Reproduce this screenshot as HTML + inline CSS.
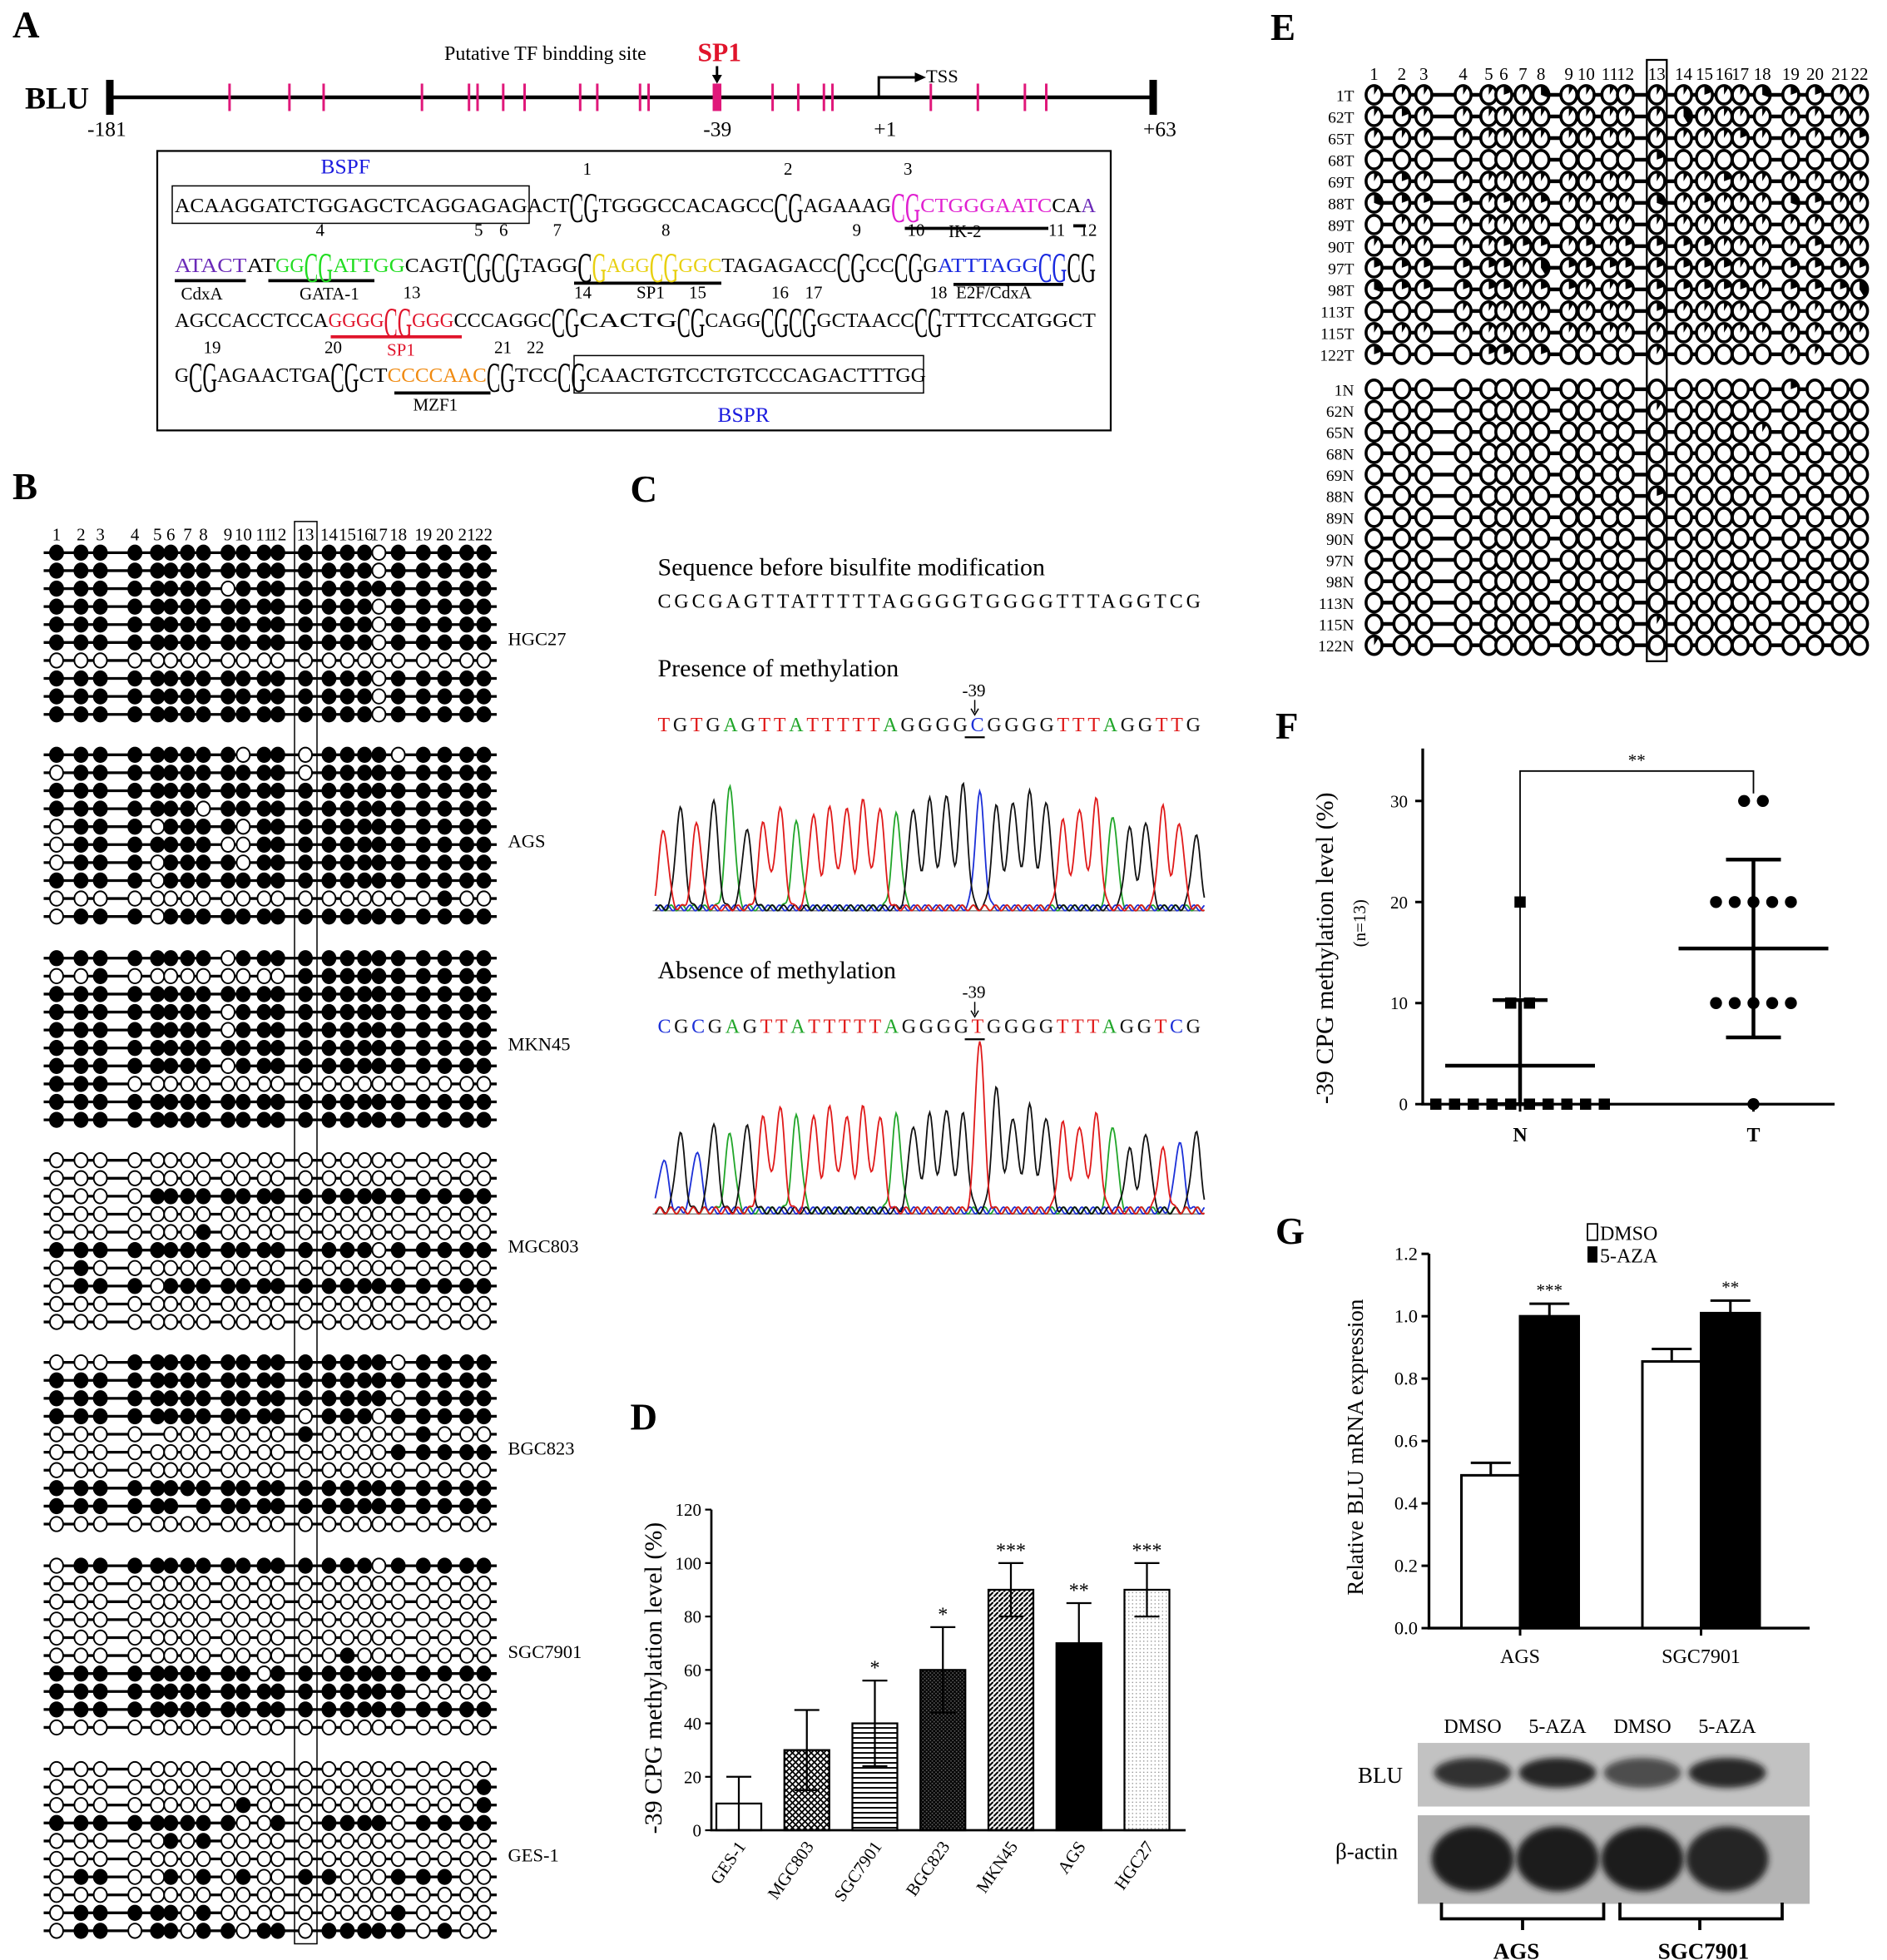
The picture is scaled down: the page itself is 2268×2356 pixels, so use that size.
<!DOCTYPE html>
<html><head><meta charset="utf-8">
<style>
html,body{margin:0;padding:0;background:#fff;}
svg{display:block;}
text{font-family:"Liberation Serif",serif;}
</style></head>
<body>
<svg id="fig" width="2268" height="2356" viewBox="0 0 1512 1571" preserveAspectRatio="none" xmlns="http://www.w3.org/2000/svg">
<defs>
<pattern id="pCross" width="5" height="5" patternUnits="userSpaceOnUse"><rect width="5" height="5" fill="#fff"/><path d="M0 0L5 5M5 0L0 5" stroke="#000" stroke-width="1.2"/></pattern>
<pattern id="pHoriz" width="4" height="4" patternUnits="userSpaceOnUse"><rect width="4" height="4" fill="#fff"/><path d="M0 1H4" stroke="#000" stroke-width="1.3"/></pattern>
<pattern id="pDense" width="3" height="3" patternUnits="userSpaceOnUse"><rect width="3" height="3" fill="#555"/><path d="M0 0L3 3M3 0L0 3" stroke="#000" stroke-width="0.9"/></pattern>
<pattern id="pDiag" width="4" height="4" patternUnits="userSpaceOnUse"><rect width="4" height="4" fill="#fff"/><path d="M0 4L4 0" stroke="#000" stroke-width="1.4"/></pattern>
<pattern id="pDot" width="3" height="3" patternUnits="userSpaceOnUse"><rect width="3" height="3" fill="#fff"/><circle cx="1.5" cy="1.5" r="0.5" fill="#888"/></pattern>
<filter id="blur" x="-20%" y="-50%" width="140%" height="200%"><feGaussianBlur stdDeviation="2.5"/></filter>
</defs>
<g id="root"></g>
</svg>
<script>
// ---------- data arrays ----------
const promoterSitesBp = [-153,-139,-131,-108,-97,-95,-89,-84,-71,-67,-57,-55,-39,-26,-20,-14,-12,11,22,33,38];
const cpgNumbers = ["1","2","3","4","5","6","7","8","9","10","11","12","13","14","15","16","17","18","19","20","21","22"];
const cellLines = ["HGC27","AGS","MKN45","MGC803","BGC823","SGC7901","GES-1"];
const Z = "0000000000000000000000", F = "1111111111111111111111";
const bspHGC27 = ["1111111111111111 0 11111","1111111111111111 0 11111","11111111 0 1111111111111","1111111111111111 0 11111","1111111111111111 0 11111","1111111111111111 0 11111",Z,"1111111111111111 0 11111","1111111111111111 0 11111","1111111111111111 0 11111"];
const bspAGS = ["111111111 0 11 0 1111 0 1111","0 11111111111 0 111111111",F,"1111111 0 11111111111111","0 111 0 1111 0 111111111111","0 1111111 00 111111111111","0 111 0 1111 0 111111111111","1111 0 11111111111111111","0000000000000000000 1 00","0 111 0 11111111111111111"];
const bspMKN45 = ["11111111 0 1111111111111","00 1 000000000 1111111111",F,"11111111 0 1111111111111","11111111 0 1111111111111",F,"11111111 0 1111111111111","111 0000000000000000000",F,F];
const bspMGC803 = [Z,Z,"0000 111111111111111111",Z,"0000000 1 00000000000000","1111111111111111 0 11111","0 1 00000000000000000000","0 111 0 11111111111111111",Z,Z];
const bspBGC823 = ["000 11111111111111 0 1111",F,"11111111111111111 0 1111","111111111111 0 111 0 11111","0000 - 0000000 1 00000 1 000","00000000000000000 11111",Z,F,"111111 - 111111111111111",Z];
const bspSGC7901 = ["0 111111111111111 0 11111",Z,Z,Z,Z,"00000000000000 1 0000000","1111111111 0 11111111111","111111111111111111 0000",F,Z];
const bspGES1 = [Z,"000000000000000000000 1","000000000 1 00000000000 1","111111111 00 1 0 1111 0 1111","00000 1 0 1 00000000000000",Z,"0 11 00 1 0 1 0 1 00 11 000 111 00",Z,"0 11111 0 1 000000000 1 0000","0 11 0 11 0 11 0 11 0 11111 0 1 00"];
const bspGroups = [bspHGC27,bspAGS,bspMKN45,bspMGC803,bspBGC823,bspSGC7901,bspGES1];
const tissueLabels = ["1T","62T","65T","68T","69T","88T","89T","90T","97T","98T","113T","115T","122T"];
const normalLabels = ["1N","62N","65N","68N","69N","88N","89N","90N","97N","98N","113N","115N","122N"];
const tumorMeth = ["1111121311111121132211","1211111111111411111111","1111111111111111211112","0000000000002000000000","1211111111111112111111","3222121211113121113211","0111111101111111111111","1111122212122221111211","2222221422222222112222","3222221221122222212224","0001111111112111101111","1111111111111111111111","2000220200001000001100"];
const normalMeth = ["0000000000000000002000","0000000000001000000000","0000000000000000010000","0000000000000000000000","0000000000000000000000","0000000000002000000000","0000000000000000000000","0000000000000000000000","0000000000000000000000","0000000000000000000000","0000000000000000000000","0000000000001000000000","1000000000000000000000"];
const seqBefore = "CGCGAGTTATTTTTAGGGGTGGGGTTTAGGTCG";
const seqPresence = "TGTGAGTTATTTTTAGGGGCGGGGTTTAGGTTG";
const seqAbsence = "CGCGAGTTATTTTTAGGGGTGGGGTTTAGGTCG";
const peaksPresence = [0.55,0.7,0.6,0.75,0.85,0.55,0.6,0.7,0.6,0.65,0.7,0.7,0.75,0.7,0.65,0.7,0.75,0.8,0.85,0.8,0.7,0.75,0.8,0.75,0.6,0.7,0.75,0.65,0.55,0.6,0.7,0.6,0.5];
const peaksAbsence = [0.3,0.45,0.35,0.5,0.45,0.5,0.55,0.6,0.55,0.55,0.6,0.55,0.6,0.55,0.55,0.5,0.55,0.6,0.55,1.0,0.7,0.55,0.6,0.55,0.5,0.5,0.55,0.5,0.35,0.45,0.35,0.4,0.45];
const dCategories = ["GES-1","MGC803","SGC7901","BGC823","MKN45","AGS","HGC27"];
const dValues = [10,30,40,60,90,70,90];
const dErrors = [10,15,16,16,10,15,10];
const dStars = ["","","*","*","***","**","***"];
const dTicks = [0,20,40,60,80,100,120];
const fGroups = ["N","T"];
const fN = [20,10,10,0,0,0,0,0,0,0,0,0,0];
const fT = [30,30,20,20,20,20,20,10,10,10,10,10,0];
const fMeans = [3.8,15.4];
const fSD = [6.5,8.8];
const fTicks = [0,10,20,30];
const gCategories = ["AGS","SGC7901"];
const gDMSO = [0.49,0.855];
const gAZA = [1.0,1.01];
const gErrDMSO = [0.04,0.04];
const gErrAZA = [0.04,0.04];
const gStars = ["***","**"];
const gTicks = [0,0.2,0.4,0.6,0.8,1.0,1.2];
const blotLanes = ["DMSO","5-AZA","DMSO","5-AZA"];
const bluIntensity = [0.85,0.95,0.7,0.9];
const actinIntensity = [1,1,1,0.95];

// ---------- helpers ----------
const NS="http://www.w3.org/2000/svg";
const root=document.getElementById('root');
function el(tag,attrs,parent){const e=document.createElementNS(NS,tag);for(const k in attrs)e.setAttribute(k,attrs[k]);(parent||root).appendChild(e);return e;}
function txt(s,x,y,size,attrs,parent){const a=Object.assign({x:x,y:y,'font-size':size},attrs||{});const e=el('text',a,parent);e.textContent=s;return e;}
function grp(name){const g=el('g',{});return g;}
function label(s,x,y){const t=txt(s,x,y,30,{'font-weight':'bold'});}

// ================= PANEL A =================
label("A",10,30);
const gA=grp('panel-a-promoter');
const bpX=bp=>88+(bp+181)*(836/244);
txt("BLU",20,87,25,{'font-weight':'bold'},gA);
el('line',{x1:88,y1:78,x2:924,y2:78,stroke:'#000','stroke-width':3},gA);
el('rect',{x:85,y:64,width:6,height:28,fill:'#000'},gA);
el('rect',{x:921,y:64,width:6,height:28,fill:'#000'},gA);
promoterSitesBp.forEach(bp=>{
  const x=bpX(bp);const w=bp===-39?7:2;
  const t=el('rect',{x:x-w/2,y:67,width:w,height:22,fill:'#e0187a'},gA);
  
  
});
txt("-181",bpX(-181)-18,109,17,{},gA);
txt("-39",bpX(-39)-11,109,17,{},gA);
txt("+1",bpX(0)-8,109,17,{},gA);
txt("+63",bpX(63)-8,109,17,{},gA);
txt("Putative  TF bindding site",356,48,16,{},gA);
txt("SP1",559,49,21,{fill:'#e0142b','font-weight':'bold'},gA);
el('line',{x1:bpX(-39),y1:53,x2:bpX(-39),y2:63,stroke:'#000','stroke-width':2},gA);
el('path',{d:`M${bpX(-39)-4} 60 L${bpX(-39)+4} 60 L${bpX(-39)} 67Z`,fill:'#000'},gA);
el('path',{d:`M${bpX(0)-4} 78 V62 H735`,stroke:'#000','stroke-width':2,fill:'none'},gA);
el('path',{d:'M733 58 L742 62 L733 66Z',fill:'#000'},gA);
txt("TSS",742,66,15,{},gA);
const gSeq=grp('promoter-sequence-box');
el('rect',{x:126,y:121,width:764,height:224,fill:'none',stroke:'#000','stroke-width':1.5},gSeq);
el('rect',{x:138,y:149,width:286,height:30,fill:'none',stroke:'#000','stroke-width':1},gSeq);
el('rect',{x:460,y:285,width:280,height:30,fill:'none',stroke:'#000','stroke-width':1},gSeq);
txt("BSPF",257,139,17,{fill:'#1a1adf'},gSeq);
txt("BSPR",575,338,17,{fill:'#1a1adf'},gSeq);
const K='#000',M='#e020d0',P='#6b2ab8',Gn='#22dd22',Y='#e8d010',B='#1a2ae0',R='#e0142b',O='#f08a10';
const seqRows=[
 {y:170,x:140,w:738,segs:[["ACAAGGATCTGGAGCTCAGGAGAGACT",K],["CG",K,1],["TGGGCCACAGCC",K],["CG",K,1],["AGAAAG",K],["CG",M,1],["CTGGGAATC",M],["CA",K],["A",P]]},
 {y:218,x:140,w:738,segs:[["ATACT",P],["AT",K],["GG",Gn],["CG",Gn,1],["ATTGG",Gn],["CAGT",K],["CG",K,1],["CG",K,1],["TAGG",K],["C",K,1],["G",Y,1],["AGG",Y],["CG",Y,1],["GGC",Y],["TAGAGACC",K],["CG",K,1],["CC",K],["CG",K,1],["G",K],["ATTTAGG",B],["CG",B,1],["CG",K,1]]},
 {y:262,x:140,w:738,segs:[["AGCCACCTCCA",K],["GGGG",R],["CG",R,1],["GGG",R],["CCCAGGC",K],["CG",K,1],[" CACTG ",K],["CG",K,1],["CAGG",K],["CG",K,1],["CG",K,1],["GCTAACC",K],["CG",K,1],["TTTCCATGGCT",K]]},
 {y:306,x:140,w:602,segs:[["G",K],["CG",K,1],["AGAACTGA",K],["CG",K,1],["CT",K],["CCCCAAC",O],["CG",K,1],["TCC",K],["CG",K,1],["CAACTGTCCTGTCCCAGACTTTGG",K]]}
];
seqRows.forEach((r,i)=>{
  const total=r.segs.reduce((a,s)=>a+s[0].length,0);const cw=r.w/total;let x=r.x;
  const g=grp('sequence-line-'+(i+1));
  r.segs.forEach(s=>{
    const n=s[0].length;
    const t=el('text',{x:x,y:s[2]?r.y+8:r.y,'font-size':s[2]?34:16,fill:s[1],textLength:n*cw,lengthAdjust:'spacingAndGlyphs'},g);
    t.textContent=s[0];x+=n*cw;
  });
});
const cpgNumPos=[[467,140],[628,140],[724,140],[253,189],[380,189],[400,189],[443,189],[530,189],[683,189],[727,189],[840,189],[865,189],[323,239],[460,239],[552,239],[618,239],[645,239],[745,239],[163,283],[260,283],[396,283],[422,283]];
cpgNumbers.forEach((n,i)=>txt(n,cpgNumPos[i][0],cpgNumPos[i][1],14,{},gSeq));
const tfLabels=[["IK-2",760,190,K,725,840,183],["CdxA",145,240,K,140,197,225],["GATA-1",240,240,K,215,300,225],["SP1",510,239,K,460,578,227],["E2F/CdxA",766,239,K,764,852,228],["SP1",310,285,R,265,370,270],["MZF1",331,329,K,316,393,315]];
tfLabels.forEach(l=>{txt(l[0],l[1],l[2],14,{fill:l[3]},gSeq);el('line',{x1:l[4],y1:l[6],x2:l[5],y2:l[6],stroke:l[3],'stroke-width':2.5},gSeq);});
el('line',{x1:860,y1:181,x2:870,y2:181,stroke:'#000','stroke-width':2.5},gSeq);

// ================= PANEL B =================
label("B",10,400);
const gB=grp('panel-b-bisulfite-sequencing');
const bColX=[45.3,64.9,80.4,108.1,126.2,136.8,150.3,163.0,182.7,194.9,211.6,222.6,244.7,263.6,278.3,292.1,303.6,319.1,339.2,356.3,374.0,387.7];
cpgNumbers.forEach((n,i)=>txt(n,bColX[i],433,14,{'text-anchor':'middle'},gB));
const bGroupY=[443,605,768,930,1092,1255,1418], bRowStep=14.4;
bspGroups.forEach((rows,gi)=>{
  const gy=bGroupY[gi];
  rows.forEach((row,ri)=>{
    const s=row.replace(/ /g,'');const y=gy+ri*bRowStep;
    el('line',{x1:35,y1:y,x2:398,y2:y,stroke:'#000','stroke-width':2.2},gB);
    for(let c=0;c<22;c++){
      if(s[c]==='-')continue;
      const d=el('ellipse',{cx:bColX[c],cy:y,rx:5.3,ry:5.8,fill:s[c]==='1'?'#000':'#fff',stroke:'#000','stroke-width':1.3},gB);
      
      
    }
  });
  const lt=txt(cellLines[gi],407,gy+74,15,{},gB);
  
  
});
el('rect',{x:236,y:418,width:18,height:1140,fill:'none',stroke:'#000','stroke-width':1},gB);

// ================= PANEL C =================
label("C",505,402);
const gC=grp('panel-c-chromatograms');
const baseCol={A:'#21a62a',C:'#1c30d8',G:'#111',T:'#e01a1a'};
txt("Sequence before bisulfite modification",527,461,20,{},gC);
txt(seqBefore,527,487,16,{textLength:435,lengthAdjust:'spacing'},gC);
txt("Presence of methylation",527,542,20,{},gC);
txt("Absence of methylation",527,784,20,{},gC);
function colorSeq(seq,y,hl){
  const t=el('text',{x:527,y:y,'font-size':16,textLength:435,lengthAdjust:'spacing'},gC);
  for(const ch of seq){const ts=el('tspan',{fill:baseCol[ch]},t);ts.textContent=ch;}
  const step=435/seq.length;const x=527+step*(hl+0.5)-3;
  el('line',{x1:x-8,y1:y+5,x2:x+8,y2:y+5,stroke:'#000','stroke-width':1.5},gC);
  txt("-39",x-10,y-28,14,{},gC);
  el('line',{x1:x,y1:y-25,x2:x,y2:y-15,stroke:'#000','stroke-width':1},gC);
  el('path',{d:`M${x-3} ${y-18} L${x} ${y-13} L${x+3} ${y-18}`,stroke:'#000',fill:'none'},gC);
}
colorSeq(seqPresence,586,19);
colorSeq(seqAbsence,828,19);
function chrom(seq,peaks,top,base){
  const x0=525,x1=965,step=(x1-x0)/seq.length,H=base-top;
  el('line',{x1:523,y1:base,x2:965,y2:base,stroke:'#888','stroke-width':1},gC);
  ['A','C','G','T'].forEach(b=>{
    let d='';
    for(let x=x0;x<=x1;x+=1){
      let v=0;
      for(let i=0;i<seq.length;i++){if(seq[i]!==b)continue;const px=x0+step*(i+0.5);v+=peaks[i]*Math.exp(-((x-px)*(x-px))/(2*3.6*3.6));}
      v+=0.02*(1+Math.sin(x*0.7+b.charCodeAt(0)));
      d+=(d?'L':'M')+x+' '+(base-v*H).toFixed(1);
    }
    const p=el('path',{d:d,stroke:baseCol[b],fill:'none','stroke-width':1.2},gC);
    
    
  });
}
chrom(seqPresence,peaksPresence,615,730);
chrom(seqAbsence,peaksAbsence,835,973);

// ================= PANEL D =================
label("D",505,1146);
const gD=grp('panel-d-bar-chart');
const dY=v=>1467-v*(257/120), dX=i=>592+i*54.5, dW=36;
const dFills=['#fff','url(#pCross)','url(#pHoriz)','url(#pDense)','url(#pDiag)','#000','url(#pDot)'];
dValues.forEach((v,i)=>{
  const b=el('rect',{x:dX(i)-dW/2,y:dY(v),width:dW,height:dY(0)-dY(v),fill:dFills[i],stroke:'#000','stroke-width':1.5},gD);
  
  
  const e=dErrors[i];
  el('path',{d:`M${dX(i)} ${dY(v-e)}V${dY(v+e)}M${dX(i)-10} ${dY(v+e)}H${dX(i)+10}M${dX(i)-10} ${dY(v-e)}H${dX(i)+10}`,stroke:'#000','stroke-width':1.5},gD);
  if(dStars[i])txt(dStars[i],dX(i),dY(v+e)-5,16,{'text-anchor':'middle'},gD);
  txt(dCategories[i],dX(i)+6,1480,14,{'text-anchor':'end',transform:`rotate(-55 ${dX(i)+6} 1480)`},gD);
});
el('path',{d:`M570 ${dY(120)}V${dY(0)}H950`,stroke:'#000','stroke-width':1.8,fill:'none'},gD);
dTicks.forEach(t=>{el('line',{x1:565,y1:dY(t),x2:570,y2:dY(t),stroke:'#000','stroke-width':1.5},gD);txt(String(t),562,dY(t)+5,14,{'text-anchor':'end'},gD);});
txt("-39  CPG  methylation  level  (%)",0,0,20,{'text-anchor':'middle',transform:'translate(530 1345) rotate(-90)'},gD);

// ================= PANEL E =================
label("E",1018,32);
const gE=grp('panel-e-tissue-methylation');
const eX=c=>1101+(bColX[c]-45.3)*(389/342.4);
cpgNumbers.forEach((n,i)=>txt(n,eX(i),64,14,{'text-anchor':'middle'},gE));
function pieRow(lbl,vals,y){
  txt(lbl,1085,y+5,13,{'text-anchor':'end'},gE);
  el('line',{x1:1095,y1:y,x2:1497,y2:y,stroke:'#000','stroke-width':3},gE);
  for(let c=0;c<22;c++){
    const cx=eX(c),rx=6.4,ry=7.4;
    const circ=el('ellipse',{cx:cx,cy:y,rx:rx,ry:ry,fill:'#fff',stroke:'#000','stroke-width':2.4},gE);
    
    
    const f=Number(vals[c])/10;
    if(f>0){const a=f*2*Math.PI;const ex=cx+rx*Math.sin(a),ey=y-ry*Math.cos(a);
      el('path',{d:`M${cx} ${y}L${cx} ${y-ry}A${rx} ${ry} 0 ${f>0.5?1:0} 1 ${ex.toFixed(2)} ${ey.toFixed(2)}Z`,fill:'#000'},gE);}
  }
}
tissueLabels.forEach((l,i)=>pieRow(l,tumorMeth[i],76+i*17.33));
normalLabels.forEach((l,i)=>pieRow(l,normalMeth[i],312+i*17.1));
el('rect',{x:eX(12)-8,y:48,width:16,height:482,fill:'none',stroke:'#000','stroke-width':1.5},gE);

// ================= PANEL F =================
label("F",1022,592);
const gF=grp('panel-f-dot-plot');
const fY=v=>885-v*8.1, fX=i=>1218+i*187;
el('path',{d:`M1140 600V885H1470`,stroke:'#000','stroke-width':2.2,fill:'none'},gF);
fTicks.forEach(t=>{el('line',{x1:1134,y1:fY(t),x2:1140,y2:fY(t),stroke:'#000','stroke-width':2},gF);txt(String(t),1128,fY(t)+5,14,{'text-anchor':'end'},gF);});
fGroups.forEach((g,i)=>{el('line',{x1:fX(i),y1:885,x2:fX(i),y2:891,stroke:'#000','stroke-width':2},gF);txt(g,fX(i),915,16,{'text-anchor':'middle','font-weight':'bold'},gF);});
function dotCluster(vals,gi,shape){
  const counts={};vals.forEach(v=>counts[v]=(counts[v]||0)+1);
  const seen={};
  vals.forEach(v=>{const n=counts[v];const k=(seen[v]=(seen[v]||0)+1)-1;const x=fX(gi)+(k-(n-1)/2)*15;const y=fY(v);
    const m=shape==='sq'?el('rect',{x:x-4.5,y:y-4.5,width:9,height:9,fill:'#000'},gF):el('circle',{cx:x,cy:y,r:4.8,fill:'#000'},gF);
    
    });
}
dotCluster(fN,0,'sq');dotCluster(fT,1,'ci');
fMeans.forEach((m,i)=>{const x=fX(i),sd=fSD[i];
  el('path',{d:`M${x-60} ${fY(m)}H${x+60}M${x} ${fY(Math.max(0,m-sd))}V${fY(m+sd)}M${x-22} ${fY(m+sd)}H${x+22}M${x-22} ${fY(Math.max(0,m-sd))}H${x+22}`,stroke:'#000','stroke-width':3},gF);});
el('path',{d:`M${fX(0)} 800V618H${fX(1)}V636`,stroke:'#000','stroke-width':1.2,fill:'none'},gF);
txt("**",(fX(0)+fX(1))/2,614,14,{'text-anchor':'middle'},gF);
txt("-39  CPG  methylation  level  (%)",0,0,20,{'text-anchor':'middle',transform:'translate(1068 760) rotate(-90)'},gF);
txt("(n=13)",0,0,14,{'text-anchor':'middle',transform:'translate(1094 740) rotate(-90)'},gF);

// ================= PANEL G =================
label("G",1022,997);
const gG=grp('panel-g-bar-chart');
const gY=v=>1305-v*(300/1.2), gX=i=>1218+i*145, gW=47;
el('rect',{x:1272,y:981,width:8,height:13,fill:'#fff',stroke:'#000','stroke-width':1.2},gG);
txt("DMSO",1282,994,16,{},gG);
el('rect',{x:1272,y:999,width:8,height:13,fill:'#000'},gG);
txt("5-AZA",1282,1012,16,{},gG);
gCategories.forEach((c,i)=>{
  [[gDMSO,gErrDMSO,'#fff',-1],[gAZA,gErrAZA,'#000',0]].forEach(s=>{
    const v=s[0][i],e=s[1][i],x=gX(i)+s[3]*gW;
    const b=el('rect',{x:x,y:gY(v),width:gW,height:gY(0)-gY(v),fill:s[2],stroke:'#000','stroke-width':2},gG);
    
    
    el('path',{d:`M${x+gW/2} ${gY(v)}V${gY(v+e)}M${x+gW/2-16} ${gY(v+e)}H${x+gW/2+16}`,stroke:'#000','stroke-width':2},gG);
  });
  txt(gStars[i],gX(i)+gW/2,gY(gAZA[i]+gErrAZA[i])-6,14,{'text-anchor':'middle'},gG);
  txt(c,gX(i),1333,16,{'text-anchor':'middle'},gG);
  el('line',{x1:gX(i),y1:1305,x2:gX(i),y2:1311,stroke:'#000','stroke-width':2},gG);
});
el('path',{d:`M1145 ${gY(1.2)}V1305H1450`,stroke:'#000','stroke-width':2.2,fill:'none'},gG);
gTicks.forEach(t=>{el('line',{x1:1139,y1:gY(t),x2:1145,y2:gY(t),stroke:'#000','stroke-width':2},gG);txt(t.toFixed(1),1136,gY(t)+5,15,{'text-anchor':'end'},gG);});
txt("Relative BLU mRNA expression",0,0,18,{'text-anchor':'middle',transform:'translate(1092 1160) rotate(-90)'},gG);
const gW2=grp('western-blot');
const laneX=i=>1180+i*68;
blotLanes.forEach((l,i)=>txt(l,laneX(i),1389,16,{'text-anchor':'middle'},gW2));
el('rect',{x:1136,y:1397,width:314,height:51,fill:'#c2c2c2'},gW2);
el('rect',{x:1136,y:1455,width:314,height:71,fill:'#b4b4b4'},gW2);
bluIntensity.forEach((v,i)=>{const b=el('ellipse',{cx:laneX(i),cy:1421,rx:31,ry:12,fill:'#1a1a1a','fill-opacity':v,filter:'url(#blur)'},gW2);
  
  });
actinIntensity.forEach((v,i)=>{const b=el('ellipse',{cx:laneX(i),cy:1490,rx:33,ry:26,fill:'#1a1a1a','fill-opacity':v,filter:'url(#blur)'},gW2);
  
  });
txt("BLU",1088,1429,18,{},gW2);
txt("β-actin",1070,1490,18,{},gW2);
el('path',{d:'M1155 1525V1538H1285V1525M1220 1538V1547M1298 1525V1538H1428V1525M1362 1538V1547',stroke:'#000','stroke-width':2.5,fill:'none'},gW2);
txt("AGS",1215,1570,18,{'text-anchor':'middle','font-weight':'bold'},gW2);
txt("SGC7901",1365,1570,18,{'text-anchor':'middle','font-weight':'bold'},gW2);
</script>
</body></html>
